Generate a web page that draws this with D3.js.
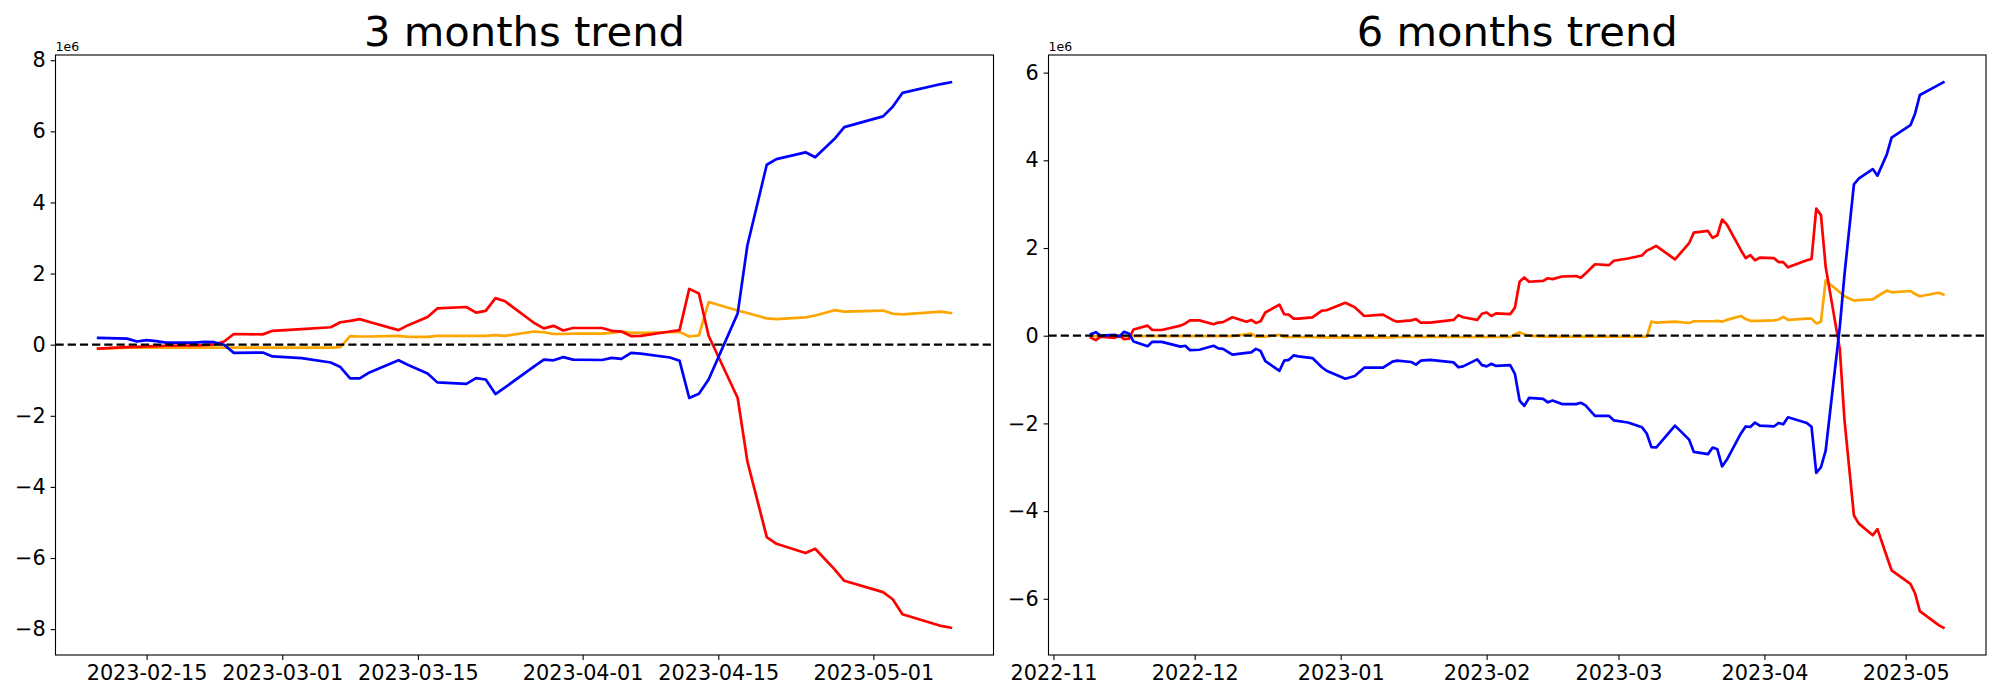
<!DOCTYPE html>
<html>
<head>
<meta charset="utf-8">
<script src="https://cdn.jsdelivr.net/npm/d3@7"></script>
<style>
  body { margin: 0; background: #fff; }
  text { font-family: 'DejaVu Sans', sans-serif; fill: #000; }
</style>
</head>
<body>
<div id="chart"></div>
<script>
// ---- 3 months window (values in 1e6) ----
const dates3m = [
  '2023-02-10','2023-02-13','2023-02-14','2023-02-15','2023-02-16','2023-02-17','2023-02-20','2023-02-21','2023-02-22','2023-02-23','2023-02-24','2023-02-27','2023-02-28',
  '2023-03-03','2023-03-06','2023-03-07','2023-03-08','2023-03-09','2023-03-10','2023-03-13','2023-03-14','2023-03-16','2023-03-17','2023-03-20','2023-03-21','2023-03-22','2023-03-23','2023-03-24','2023-03-27','2023-03-28','2023-03-29','2023-03-30','2023-03-31',
  '2023-04-03','2023-04-04','2023-04-05','2023-04-06','2023-04-07','2023-04-10','2023-04-11','2023-04-12','2023-04-13','2023-04-14','2023-04-17','2023-04-18','2023-04-20','2023-04-21','2023-04-24','2023-04-25','2023-04-27','2023-04-28',
  '2023-05-02','2023-05-03','2023-05-04','2023-05-08','2023-05-09'];
const blue3m = [
  0.19,0.17,0.09,0.13,0.10,0.06,0.06,0.08,0.07,0.00,-0.23,-0.22,-0.33,
  -0.38,-0.50,-0.63,-0.95,-0.95,-0.78,-0.44,-0.57,-0.81,-1.06,-1.10,-0.94,-0.98,-1.39,-1.20,-0.61,-0.42,-0.44,-0.35,-0.42,
  -0.43,-0.37,-0.40,-0.23,-0.25,-0.36,-0.45,-1.50,-1.38,-0.98,0.88,2.79,5.06,5.22,5.41,5.27,5.79,6.12,
  6.42,6.69,7.08,7.33,7.38];
const red3m = [
  -0.11,-0.07,-0.06,-0.05,-0.04,-0.03,-0.02,-0.01,0.01,0.09,0.30,0.29,0.39,
  0.44,0.49,0.63,0.67,0.72,0.64,0.41,0.55,0.78,1.02,1.06,0.90,0.95,1.31,1.22,0.61,0.46,0.53,0.40,0.47,
  0.47,0.39,0.37,0.24,0.25,0.37,0.41,1.57,1.44,0.25,-1.50,-3.28,-5.41,-5.60,-5.86,-5.74,-6.32,-6.64,
  -6.96,-7.16,-7.58,-7.91,-7.96];
const orange3m = [
  -0.11,-0.08,-0.08,-0.08,-0.08,-0.08,-0.08,-0.08,-0.08,-0.08,-0.08,-0.08,-0.08,
  -0.08,-0.08,-0.07,0.24,0.23,0.23,0.25,0.22,0.22,0.25,0.25,0.25,0.25,0.27,0.25,0.37,0.35,0.30,0.30,0.31,
  0.31,0.33,0.37,0.33,0.33,0.35,0.36,0.23,0.26,1.20,0.96,0.89,0.74,0.72,0.77,0.82,0.97,0.93,
  0.96,0.87,0.85,0.93,0.89];
const xTicks3m = ['2023-02-15','2023-03-01','2023-03-15','2023-04-01','2023-04-15','2023-05-01'];
const yTicks3m = [-8,-6,-4,-2,0,2,4,6,8];

// ---- 6 months window (values in 1e6) ----
const dates6m = [
  '2022-11-09','2022-11-10','2022-11-11','2022-11-14','2022-11-15','2022-11-16','2022-11-17','2022-11-18','2022-11-21','2022-11-22','2022-11-24','2022-11-28','2022-11-29','2022-11-30',
  '2022-12-02','2022-12-05','2022-12-06','2022-12-07','2022-12-09','2022-12-12','2022-12-13','2022-12-14','2022-12-15','2022-12-16','2022-12-19','2022-12-20','2022-12-21','2022-12-22','2022-12-23','2022-12-26','2022-12-28','2022-12-29',
  '2023-01-02','2023-01-04','2023-01-06','2023-01-10','2023-01-12','2023-01-13','2023-01-16','2023-01-17','2023-01-18','2023-01-20','2023-01-25','2023-01-26','2023-01-27','2023-01-30','2023-01-31',
  '2023-02-01','2023-02-02','2023-02-03','2023-02-06','2023-02-07','2023-02-08','2023-02-09','2023-02-10','2023-02-13','2023-02-14','2023-02-15','2023-02-17','2023-02-20','2023-02-21','2023-02-22','2023-02-24','2023-02-27','2023-02-28',
  '2023-03-03','2023-03-06','2023-03-07','2023-03-08','2023-03-09','2023-03-13','2023-03-16','2023-03-17','2023-03-20','2023-03-21','2023-03-22','2023-03-23','2023-03-24','2023-03-27','2023-03-28','2023-03-29','2023-03-30','2023-03-31',
  '2023-04-03','2023-04-04','2023-04-05','2023-04-06','2023-04-10','2023-04-11','2023-04-12','2023-04-13','2023-04-14','2023-04-17','2023-04-18','2023-04-20','2023-04-21','2023-04-24','2023-04-25','2023-04-27','2023-04-28',
  '2023-05-02','2023-05-03','2023-05-04','2023-05-08','2023-05-09'];
const blue6m = [
  0.04,0.08,0.00,0.02,-0.02,0.09,0.05,-0.13,-0.24,-0.14,-0.14,-0.25,-0.23,-0.33,
  -0.32,-0.23,-0.29,-0.30,-0.43,-0.39,-0.38,-0.30,-0.35,-0.58,-0.80,-0.57,-0.55,-0.45,-0.47,-0.51,-0.72,-0.80,
  -0.98,-0.92,-0.73,-0.73,-0.59,-0.57,-0.60,-0.66,-0.57,-0.55,-0.61,-0.72,-0.70,-0.54,-0.67,
  -0.70,-0.64,-0.69,-0.67,-0.87,-1.48,-1.60,-1.42,-1.44,-1.52,-1.48,-1.56,-1.56,-1.53,-1.59,-1.83,-1.83,-1.93,
  -1.98,-2.09,-2.23,-2.54,-2.55,-2.05,-2.37,-2.65,-2.70,-2.55,-2.59,-2.98,-2.83,-2.23,-2.07,-2.08,-1.98,-2.05,
  -2.07,-1.99,-2.02,-1.86,-1.99,-2.08,-3.13,-3.00,-2.62,0.20,1.40,3.45,3.58,3.80,3.65,4.14,4.52,
  4.80,5.07,5.49,5.72,5.78];
const red6m = [
  -0.05,-0.10,-0.02,-0.05,0.00,-0.08,-0.07,0.14,0.23,0.13,0.13,0.23,0.28,0.35,
  0.35,0.26,0.30,0.31,0.42,0.32,0.36,0.29,0.33,0.53,0.71,0.49,0.48,0.39,0.39,0.42,0.57,0.58,
  0.75,0.65,0.45,0.48,0.36,0.32,0.35,0.38,0.30,0.30,0.36,0.47,0.42,0.36,0.50,
  0.53,0.45,0.51,0.49,0.64,1.23,1.33,1.23,1.25,1.31,1.29,1.35,1.36,1.32,1.42,1.63,1.61,1.71,
  1.76,1.83,1.94,1.99,2.05,1.74,2.11,2.35,2.39,2.23,2.29,2.65,2.54,1.95,1.77,1.84,1.72,1.78,
  1.77,1.68,1.68,1.56,1.72,1.75,2.90,2.75,1.57,-0.30,-1.93,-4.10,-4.28,-4.55,-4.41,-5.04,-5.35,
  -5.66,-5.88,-6.28,-6.60,-6.66];
const orange6m = [
  0.00,-0.01,-0.01,-0.01,-0.01,-0.01,-0.01,-0.01,-0.01,-0.01,-0.01,-0.01,-0.01,-0.01,
  -0.01,-0.01,-0.01,-0.01,-0.01,0.03,0.05,-0.02,-0.02,-0.02,0.02,-0.03,-0.03,-0.03,-0.03,-0.03,-0.04,-0.04,
  -0.04,-0.04,-0.04,-0.04,-0.04,-0.03,-0.03,-0.03,-0.03,-0.03,-0.03,-0.03,-0.03,-0.03,-0.03,
  -0.03,-0.03,-0.03,-0.03,0.03,0.08,0.03,0.00,-0.02,-0.02,-0.02,-0.02,-0.02,-0.02,-0.02,-0.02,-0.02,-0.02,
  -0.02,-0.02,-0.02,0.32,0.30,0.32,0.29,0.33,0.33,0.33,0.34,0.32,0.36,0.45,0.38,0.34,0.34,0.34,
  0.35,0.37,0.43,0.36,0.39,0.39,0.28,0.32,1.26,0.99,0.90,0.80,0.81,0.83,0.90,1.03,0.99,
  1.02,0.95,0.90,0.98,0.94];
const xTicks6m = ['2022-11-01','2022-12-01','2023-01-01','2023-02-01','2023-03-01','2023-04-01','2023-05-01'];
const yTicks6m = [-6,-4,-2,0,2,4,6];

const parseDate = d3.timeParse('%Y-%m-%d');

const WIDTH = 2000, HEIGHT = 700;
const TOP = 55, BOTTOM = 655;
const TICK = 4.9, PAD = 4.9;

const svg = d3.select('#chart').append('svg')
    .attr('width', WIDTH)
    .attr('height', HEIGHT);

svg.append('rect')
    .attr('width', WIDTH)
    .attr('height', HEIGHT)
    .attr('fill', 'white');

const panels = [
    {title: '3 months trend', dates: dates3m, blue: blue3m, red: red3m, orange: orange3m,
     xTicks: xTicks3m, xFmt: '%Y-%m-%d', yTicks: yTicks3m, left: 55.5, right: 993.5},
    {title: '6 months trend', dates: dates6m, blue: blue6m, red: red6m, orange: orange6m,
     xTicks: xTicks6m, xFmt: '%Y-%m', yTicks: yTicks6m, left: 1048.5, right: 1986}
];

const minus = v => v < 0 ? '\u2212' + Math.abs(v) : String(v);

// pad 5% on each side, like matplotlib's default margins
function padded(ext) {
    let p = (ext[1] - ext[0]) * 0.05;
    return [ext[0] - p, ext[1] + p];
}

panels.forEach(p => {
    let dates = p.dates.map(parseDate);
    let g = svg.append('g');

    let tExt = d3.extent(dates).map(d => +d);
    let x = d3.scaleTime()
        .domain(padded(tExt).map(t => new Date(t)))
        .range([p.left, p.right]);

    let allVals = p.blue.concat(p.red, p.orange);
    let y = d3.scaleLinear()
        .domain(padded(d3.extent(allVals)))
        .range([BOTTOM, TOP]);

    let xAxis = g.append('g')
        .attr('transform', `translate(0,${BOTTOM})`)
        .call(d3.axisBottom(x)
            .tickValues(p.xTicks.map(parseDate))
            .tickFormat(d3.timeFormat(p.xFmt))
            .tickSize(TICK).tickPadding(PAD).tickSizeOuter(0));
    xAxis.select('.domain').remove();
    xAxis.selectAll('line').attr('stroke', '#000').attr('stroke-width', 1.1);
    xAxis.selectAll('text')
        .style('font-family', "'DejaVu Sans', sans-serif")
        .style('font-size', '20.8px');

    let yAxis = g.append('g')
        .attr('transform', `translate(${p.left},0)`)
        .call(d3.axisLeft(y)
            .tickValues(p.yTicks)
            .tickFormat(minus)
            .tickSize(TICK).tickPadding(PAD).tickSizeOuter(0));
    yAxis.select('.domain').remove();
    yAxis.selectAll('line').attr('stroke', '#000').attr('stroke-width', 1.1);
    yAxis.selectAll('text')
        .style('font-family', "'DejaVu Sans', sans-serif")
        .style('font-size', '20.8px');

    let line = d3.line()
        .x(d => x(d[0]))
        .y(d => y(d[1]));

    let series = [
        {vals: p.orange, color: '#ffa500'},
        {vals: p.red, color: '#ff0000'},
        {vals: p.blue, color: '#0000ff'}
    ];

    g.selectAll('path.series')
        .data(series)
        .join('path')
        .attr('class', 'series')
        .attr('d', s => line(dates.map((d, i) => [d, s.vals[i]])))
        .attr('fill', 'none')
        .attr('stroke', s => s.color)
        .attr('stroke-width', 2.7)
        .attr('stroke-linejoin', 'round')
        .attr('stroke-linecap', 'square');

    // zero reference
    g.append('line')
        .attr('x1', p.left)
        .attr('x2', p.right)
        .attr('y1', y(0))
        .attr('y2', y(0))
        .attr('stroke', '#000')
        .attr('stroke-width', 2.2)
        .attr('stroke-dasharray', '8.2,4');

    // axes frame
    g.append('rect')
        .attr('x', p.left)
        .attr('y', TOP)
        .attr('width', p.right - p.left)
        .attr('height', BOTTOM - TOP)
        .attr('fill', 'none')
        .attr('stroke', '#000')
        .attr('stroke-width', 1.1);

    g.append('text')
        .attr('x', (p.left + p.right) / 2)
        .attr('y', 46)
        .attr('text-anchor', 'middle')
        .style('font-size', '41.7px')
        .text(p.title);

    g.append('text')
        .attr('x', p.left)
        .attr('y', 50.5)
        .style('font-size', '12.5px')
        .text('1e6');
});
</script>
</body>
</html>
